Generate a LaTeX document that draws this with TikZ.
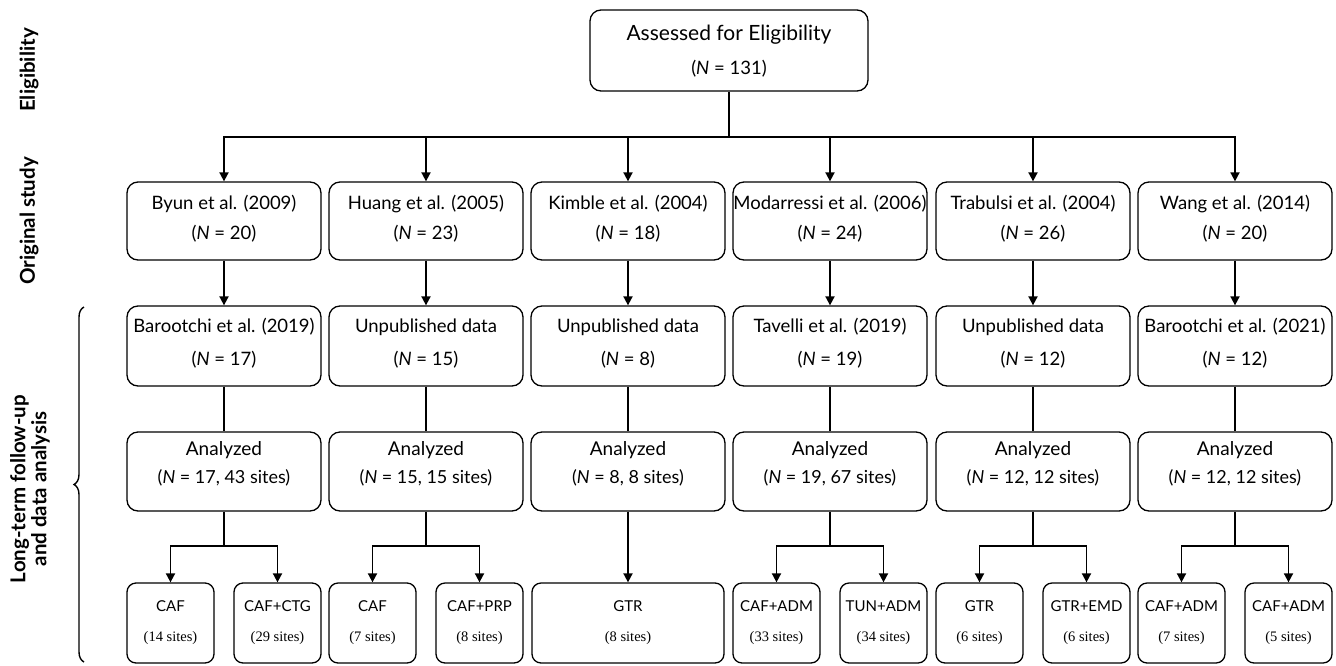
\documentclass[tikz,border=0pt]{standalone}
\usepackage{fontspec}
\setmainfont{Lato}
\newfontfamily\sitesfont{Liberation Serif}
\newfontfamily\labfont{Lato}
\usetikzlibrary{arrows.meta,decorations.pathreplacing,calc}
\newcommand\Nn{\textit{N}}
\begin{document}
\begin{tikzpicture}[x=1pt,y=1pt,
  bx/.style={draw, line width=1.3pt, rounded corners=11pt, inner sep=0pt, minimum width=194pt},
  rowtwo/.style={bx, minimum height=78pt},
  rowthree/.style={bx, minimum height=80pt},
  rowfour/.style={bx, minimum height=79pt},
  smallbox/.style={bx, rounded corners=9pt, minimum width=87pt, minimum height=80pt},
  wide/.style={bx, rounded corners=9pt, minimum width=192pt, minimum height=80pt},
  txt/.style={inner sep=0pt, anchor=mid, font=\fontsize{18.5}{20}\selectfont},
  big/.style={inner sep=0pt, anchor=mid, font=\fontsize{19}{22}\selectfont},
  stxt/.style={inner sep=0pt, anchor=mid, font=\fontsize{15}{16}\selectfont},
  sites/.style={inner sep=0pt, anchor=mid, font=\sitesfont\fontsize{14.5}{15}\selectfont},
  lab/.style={inner sep=0pt, rotate=90, align=center, font=\labfont\bfseries\fontsize{20.5}{21}\selectfont},
  conn/.style={line width=1.8pt},
  arr/.style={conn, -{Triangle[length=9pt,width=9pt]}}
]
\useasboundingbox (0,0) rectangle (1336,-665);

% side labels
\node[lab] (lelig) at (29,-70) {Eligibility};
\node[lab] (lorig) at (29,-221) {Original study};
\node[lab] (llong) at (30,-489) {Long-term follow-up\\and data analysis};
\draw[line width=1.4pt, decorate, decoration={brace, amplitude=10pt}] (84,-662) -- (84,-307);

% top
\node[bx, minimum width=278pt, minimum height=81pt] (top) at (729,-50.5) {};
\node[txt, font=\fontsize{21}{22}\selectfont] (topa) at (729,-38) {Assessed for Eligibility};
\node[txt] (topb) at (729,-72) {(\Nn{} = 131)};
\coordinate (hub) at (729,-137);
\draw[conn] (top.south) -- (hub);

% row 2
\foreach \n/\x/\t/\m in {1/224/Byun et al. (2009)/20, 2/426/Huang et al. (2005)/23, 3/628/Kimble et al. (2004)/18, 4/830/Modarressi et al. (2006)/24, 5/1033/Trabulsi et al. (2004)/26, 6/1235/Wang et al. (2014)/20}{
  \node[rowtwo] (o\n) at (\x,-221) {};
  \node[txt] (o\n a) at (\x,-207) {\t};
  \node[txt] (o\n b) at (\x,-237) {(\Nn{} = \m)};
  \draw[arr] (hub) -| (o\n.north);
}

% row 3
\foreach \n/\x/\t/\m in {1/224/Barootchi et al. (2019)/17, 2/426/Unpublished data/15, 3/628/Unpublished data/8, 4/830/Tavelli et al. (2019)/19, 5/1033/Unpublished data/12, 6/1235/Barootchi et al. (2021)/12}{
  \node[rowthree] (f\n) at (\x,-346) {};
  \node[txt] (f\n a) at (\x,-330) {\t};
  \node[txt] (f\n b) at (\x,-363) {(\Nn{} = \m)};
  \draw[arr] (o\n.south) -- (f\n.north);
}

% row 4
\foreach \n/\x/\m in {1/224/{17, 43}, 2/426/{15, 15}, 3/628/{8, 8}, 4/830/{19, 67}, 5/1033/{12, 12}, 6/1235/{12, 12}}{
  \node[rowfour] (a\n) at (\x,-471.5) {};
  \node[big] (a\n a) at (\x,-453) {Analyzed};
  \node[txt, font=\fontsize{18}{20}\selectfont] (a\n b) at (\x,-481) {(\Nn{} = \m{} sites)};
  \draw[conn] (f\n.south) -- (a\n.north);
}

% row 5
\foreach \n/\x/\ta/\sa/\tb/\sb in {1/224/CAF/14/CAF+CTG/29, 2/426/CAF/7/CAF+PRP/8, 4/830/CAF+ADM/33/TUN+ADM/34, 5/1033/GTR/6/GTR+EMD/6, 6/1235/CAF+ADM/7/CAF+ADM/5}{
  \node[smallbox] (x\n l) at (\x-53.5,-623) {};
  \node[stxt] (x\n la) at (\x-53.5,-609) {\ta};
  \node[sites] (x\n lb) at (\x-53.5,-639) {(\sa{} sites)};
  \node[smallbox] (x\n r) at (\x+53.5,-623) {};
  \node[stxt] (x\n ra) at (\x+53.5,-609) {\tb};
  \node[sites] (x\n rb) at (\x+53.5,-639) {(\sb{} sites)};
  \coordinate (b\n) at (\x,-546);
  \draw[conn] (a\n.south) -- (b\n);
  \draw[arr] (b\n) -| (x\n l.north);
  \draw[arr] (b\n) -| (x\n r.north);
}
\node[wide] (x3) at (628,-623) {};
\node[stxt] (x3a) at (628,-609) {GTR};
\node[sites] (x3b) at (628,-639) {(8 sites)};
\draw[arr] (a3.south) -- (x3.north);
\end{tikzpicture}
\end{document}
